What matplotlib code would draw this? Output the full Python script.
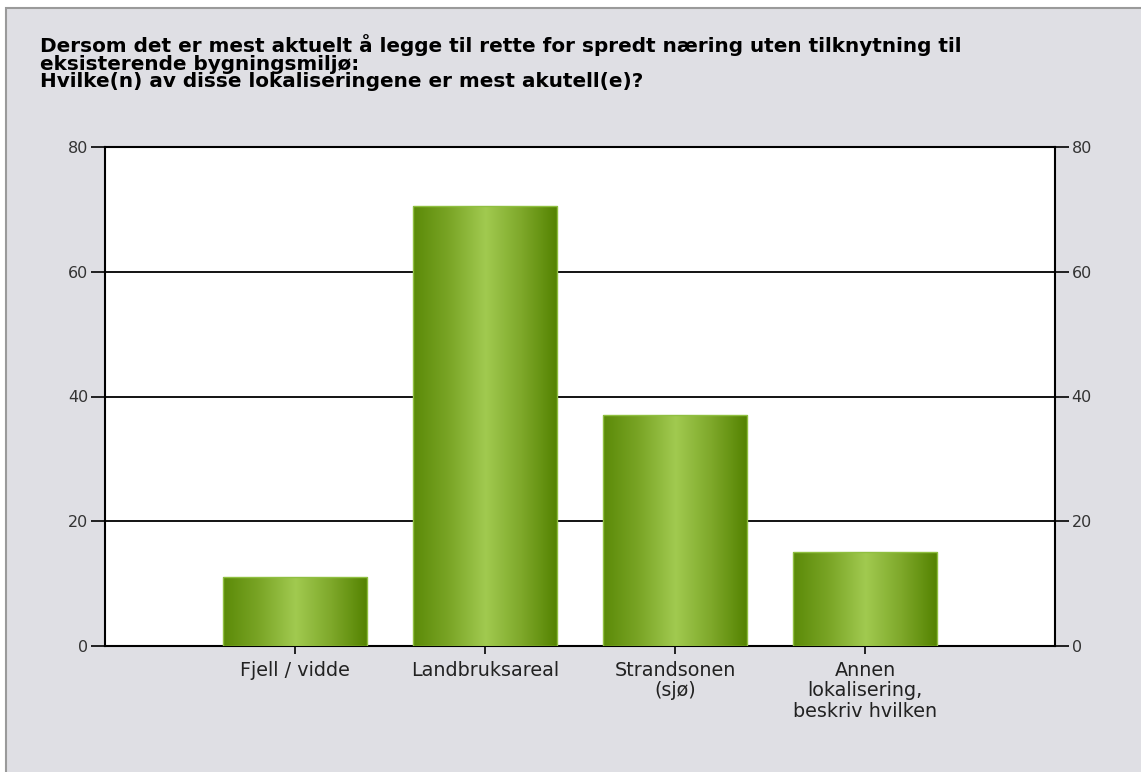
import numpy as np
import matplotlib
matplotlib.use("Agg")
import matplotlib.pyplot as plt
from matplotlib.colors import LinearSegmentedColormap
from matplotlib.patches import Rectangle

# data
categories = ["Fjell / vidde", "Landbruksareal", "Strandsonen\n(sjø)",
              "Annen\nlokalisering,\nbeskriv hvilken"]
values = [11, 70.5, 37, 15]
y_ticks = [0, 20, 40, 60, 80]
title_lines = ["Dersom det er mest aktuelt å legge til rette for spredt næring uten tilknytning til",
               "eksisterende bygningsmiljø:",
               "Hvilke(n) av disse lokaliseringene er mest akutell(e)?"]

BG = "#dfdfe4"
W, H = 1141, 772
fig = plt.figure(figsize=(W / 100, H / 100), dpi=100, facecolor="white")
fig.patches.append(Rectangle((6 / W, -0.02), 1.02, 1.02 - 8 / H, transform=fig.transFigure,
                             facecolor=BG, edgecolor="#9a9a9a", linewidth=1.5, zorder=-10))

ax = fig.add_axes([105 / W, 1 - 646 / H, (1055 - 105) / W, (646 - 147) / H])
ax.set_facecolor("white")

# cylinder-like horizontal gradient
cmap = LinearSegmentedColormap.from_list(
    "cyl", ["#5b8a08", "#7aa526", "#a1ca50", "#7ea82a", "#538200"])
grad = np.linspace(0, 1, 256).reshape(1, -1)
bar_w = 0.76
xs = np.arange(1, len(values) + 1)
for x, v in zip(xs, values):
    x0, x1 = x - bar_w / 2, x + bar_w / 2
    ax.imshow(grad, cmap=cmap, extent=[x0, x1, 0, v], aspect="auto", zorder=3,
              interpolation="bicubic")
    ax.add_patch(Rectangle((x0, 0), bar_w, v, facecolor="none",
                           edgecolor="#8fbf40", linewidth=1.0, zorder=4))
ax.set_xlim(0, 5)
ax.set_ylim(0, 80)

ax.set_yticks(y_ticks)
ax.yaxis.grid(True, color="black", linewidth=1.3, zorder=1)
ax.set_axisbelow(True)
ax.tick_params(axis="y", direction="out", length=10, width=1.2, colors="black",
               labelcolor="#333333", labelsize=11.5, pad=2, right=True, labelright=True)
ax.set_xticks(xs)
ax.set_xticklabels(categories, fontsize=13.8, color="#222222", linespacing=1.08)
ax.tick_params(axis="x", direction="out", length=6, width=1.2, pad=5)
for s in ax.spines.values():
    s.set_linewidth(1.5)
    s.set_color("black")

# title lines placed one by one (reference font is wide but tightly spaced)
for i, line in enumerate(title_lines):
    fig.text(40 / W, 1 - (52 + 17.5 * i) / H, line, fontsize=14.4, fontweight="bold",
             color="black", va="baseline", ha="left")

fig.savefig("out.png", dpi=100, facecolor=fig.get_facecolor())
